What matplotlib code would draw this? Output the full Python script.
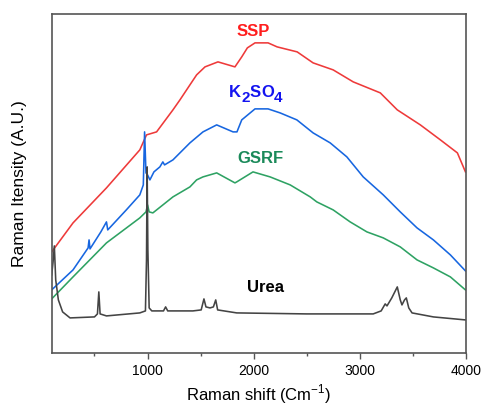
import matplotlib
matplotlib.use("Agg")
import matplotlib.pyplot as plt
from matplotlib.ticker import MultipleLocator

plt.rcParams["font.family"] = ["Liberation Sans", "DejaVu Sans"]
plt.rcParams["mathtext.fontset"] = "custom"
plt.rcParams["mathtext.rm"] = "Liberation Sans"
plt.rcParams["mathtext.bf"] = "Liberation Sans:bold"

# spectra (Raman shift in cm-1, intensity in arbitrary units)
ssp_x = [97, 298, 613, 927, 990, 1085, 1239, 1305, 1399, 1462, 1541, 1663, 1823,
         1887, 1940, 2012, 2135, 2220, 2409, 2559, 2748, 2937, 3192, 3352, 3569,
         3758, 3918, 3994]
ssp_y = [101, 130, 165, 203, 218, 221, 243, 253, 268, 278, 286, 291, 286,
         296, 305, 310, 310, 306, 301, 290, 283, 271, 260, 243, 228,
         213, 200, 181]

k2so4_x = [97, 298, 440, 449, 458, 560, 613, 625, 800, 927, 960, 972, 985, 1000,
           1022, 1060, 1116, 1144, 1160, 1239, 1399, 1522, 1651, 1805, 1842, 1887,
           2012, 2135, 2248, 2406, 2559, 2720, 2877, 3031, 3220, 3380, 3538, 3692,
           3852, 3994]
k2so4_y = [63, 83, 105, 113, 104, 121, 131, 123, 143, 158, 168, 221, 180, 178,
           173, 181, 186, 191, 188, 193, 210, 221, 228, 221, 221, 233,
           244, 244, 240, 233, 220, 210, 196, 176, 158, 141, 125, 113,
           98, 82]

gsrf_x = [97, 298, 613, 927, 985, 1000, 1015, 1050, 1239, 1399, 1462, 1522, 1651,
          1823, 1840, 1993, 2154, 2343, 2532, 2594, 2748, 2908, 3066, 3220, 3380,
          3538, 3692, 3852, 3994]
gsrf_y = [54, 76, 110, 135, 141, 148, 141, 140, 156, 166, 173, 176, 180,
          170, 171, 181, 176, 168, 156, 151, 143, 131, 121, 115, 106,
          93, 85, 76, 63]

urea_x = [97, 110, 122, 135, 160, 200, 270, 500, 528, 541, 553, 613, 927, 980, 990,
          996, 1003, 1015, 1040, 1150, 1170, 1190, 1427, 1505, 1531, 1550, 1588,
          1620, 1642, 1660, 1840, 2500, 3125, 3200, 3238, 3255, 3300, 3352, 3380,
          3396, 3420, 3437, 3460, 3491, 3692, 3994]
urea_y = [78, 91, 107, 73, 53, 41, 35, 36, 39, 61, 39, 37, 40, 42, 93,
          186, 103, 45, 42, 42, 46, 42, 42, 43, 54, 46, 45,
          46, 53, 43, 40, 39, 39, 42, 49, 47, 55, 66, 53,
          48, 53, 55, 45, 40, 36, 33]

fig = plt.figure(figsize=(4.83, 4.08), dpi=100)
ax = fig.add_axes([0.107, 0.135, 0.858, 0.831])

ax.plot(ssp_x, ssp_y, color="#EE3A3A", lw=1.15)
ax.plot(k2so4_x, k2so4_y, color="#1766E0", lw=1.15)
ax.plot(gsrf_x, gsrf_y, color="#2EA263", lw=1.15)
ax.plot(urea_x, urea_y, color="#444444", lw=1.15)

ax.text(1993, 321, "SSP", color="#FF1E1E", fontsize=12, fontweight="bold",
        ha="center", va="center")
ax.text(2059, 194, "GSRF", color="#1B8A5A", fontsize=12, fontweight="bold",
        ha="center", va="center")
ax.text(2108, 65, "Urea", color="black", fontsize=12, fontweight="bold",
        ha="center", va="center")

# K2SO4 label with near full-size, lowered subscripts
parts = [("K", 0, 0, 12), ("2", 8.7, -3.5, 11), ("S", 15.0, 0, 12),
         ("O", 23.0, 0, 12), ("4", 32.4, -3.5, 11)]
for s, dx, dy, fs in parts:
    ax.annotate(s, xy=(1767, 256), xytext=(dx, dy), textcoords="offset points",
                color="#1414F0", fontsize=fs, fontweight="bold",
                ha="left", va="baseline")

ax.set_xlim(97, 4000)
ax.set_ylim(0, 339)
ax.xaxis.set_major_locator(MultipleLocator(1000))
ax.xaxis.set_minor_locator(MultipleLocator(500))
ax.set_yticks([])
ax.tick_params(axis="x", which="major", direction="out", length=4, width=1,
               color="#555555", labelsize=10, pad=4)
ax.tick_params(axis="x", which="minor", direction="out", length=2.5, width=1,
               color="#555555")
for s in ax.spines.values():
    s.set_color("#555555")
    s.set_linewidth(1.2)

ax.set_xlabel(r"Raman shift (Cm$^{-1}$)", fontsize=12, labelpad=3)
ax.set_ylabel("Raman Itensity (A.U.)", fontsize=12.5, labelpad=18)

fig.savefig("out.png", dpi=100)
